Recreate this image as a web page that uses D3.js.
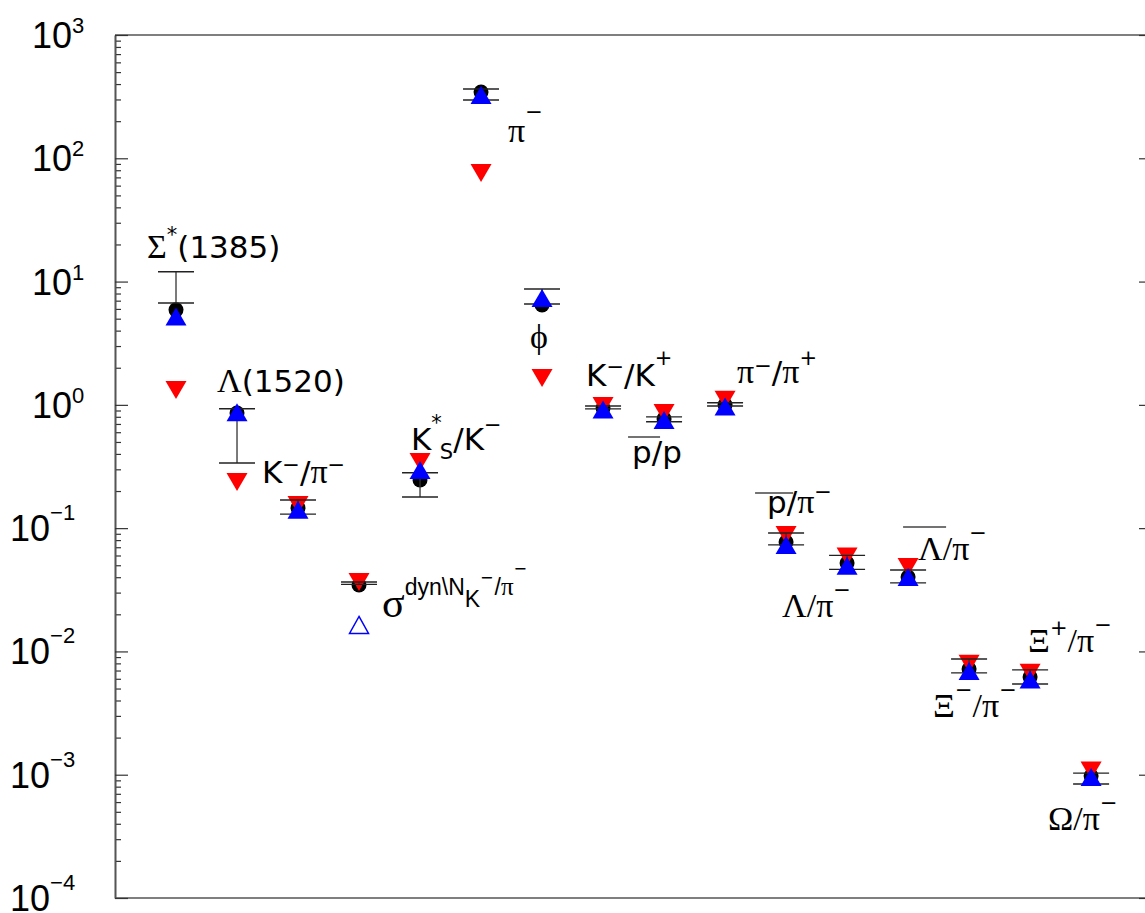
<!DOCTYPE html>
<html>
<head>
<meta charset="utf-8">
<script src="https://cdn.jsdelivr.net/npm/d3@7"></script>
<style>
  body { margin: 0; background: #fff; }
  svg { display: block; }
</style>
</head>
<body>
<svg id="chart"></svg>
<script>
// particle ratios: data (black), model A (red, down), model B (blue, up)
var categories = ["Σ*(1385)", "Λ(1520)", "K−/π−", "σdyn", "K*S/K−", "π−", "ϕ", "K−/K+",
                  "p̄/p", "π−/π+", "p̄/π−", "Λ/π−", "Λ̄/π−", "Ξ−/π−", "Ξ+/π−", "Ω/π−"];
var dataVals = [5.9, 0.86, 0.146, 0.0346, 0.246, 345, 6.46, 0.944, 0.769, 1.0, 0.0773, 0.0522, 0.0402, 0.00721, 0.00621, 0.000977];
var errHi    = [12, 0.93, 0.169, 0.0366, 0.281, 365, 8.71, 0.98, 0.799, 1.04, 0.0914, 0.0601, 0.0458, 0.00869, 0.00708, 0.00103];
var errLo    = [6.7, 0.338, 0.130, 0.0350, 0.179, 297, 6.58, 0.927, 0.73, 0.98, 0.0731, 0.0463, 0.0360, 0.00670, 0.00545, 0.00084];
var redVals  = [1.32, 0.237, 0.154, 0.0366, 0.344, 76, 1.65, 0.98, 0.859, 1.1, 0.0878, 0.0590, 0.0484, 0.00793, 0.00670, 0.00108];
var blueVals = [5.2, 0.87, 0.141, 0.0164, 0.296, 326, 7.36, 0.917, 0.755, 0.97, 0.0731, 0.0495, 0.0402, 0.00695, 0.00593, 0.00096];
var blueOpen = [false, false, false, true, false, false, false, false, false, false, false, false, false, false, false, false];
var decades = [-4, -3, -2, -1, 0, 1, 2, 3];

// label pieces: [text, kind, baseline shift override, dx]
var labelParts = [
  [["Σ","g"],["*","u",-16],["(1385)","r"]],
  [["Λ","g"],["(1520)","r"]],
  [["K","r"],["−","u",-11],["/","r"],["π","g"],["−","u",-11]],
  [["σ","gb"],["dyn\\N","s",-22],["K","s",-10],["−","m",-34],["/","s",-22,1],["π","gs",-22],["−","m",-43]],
  [["K","r"],["*","u",-20],["S","d",9,-2],["/K","r"],["−","u",-18]],
  [["π","g"],["−","u",-23]],
  [["ϕ","g"]],
  [["K","r"],["−","u",-12],["/K","r"],["+","u",-21]],
  [["p/p","r"]],
  [["π","g"],["−","u",-10],["/","r"],["π","g"],["+","u",-18]],
  [["p/","r"],["π","g"],["−","u",-14]],
  [["Λ/π","g"],["−","u",-20]],
  [["Λ/π","g"],["−","u",-20]],
  [["Ξ","g"],["−","u",-20],["/π","g"],["−","u",-20]],
  [["Ξ","g"],["+","u",-17],["/π","g"],["−","u",-20]],
  [["Ω/π","g"],["−","u",-20]]
];
// label offset from the data point (px)
var labelDx = [-29, -20, -36, 23, -9, 27, -12, -17, -32, 12, -19, -65, 10, -36, -2, -43];
var labelDy = [-52, -21, -25, 32, -30, 50, 43, -22, 44, -22, -29, 54, -17, 48, -25, 54];
// overlines for antiparticles: index -> [x0, x1, y] relative to label
var overlines = {8: [-4, 28, -26], 10: [-12, 26, -20], 12: [-15, 28, -33]};

var width = 1145, height = 913;
var mLeft = 115, mRight = 1146, mTop = 35, mBottom = 898;

var sans = "'DejaVu Sans', 'Liberation Sans', sans-serif";
var arial = "'Liberation Sans', Arial, sans-serif";
var serif = "'Liberation Serif', 'DejaVu Serif', serif";
var kinds = {
  r:  {f: sans, s: 31, b: 0},
  g:  {f: serif, s: 34, b: 0},
  gb: {f: serif, s: 42, b: 0},
  u:  {f: sans, s: 21, b: -19},
  d:  {f: sans, s: 21, b: 9},
  s:  {f: arial, s: 23, b: -22},
  gs: {f: serif, s: 25, b: -22},
  m:  {f: sans, s: 16, b: -34}
};

var svg = d3.select("#chart").attr("width", width).attr("height", height);
svg.append("rect").attr("width", width).attr("height", height).attr("fill", "#fff");

var xScale = d3.scaleLinear().domain([0, 16.9]).range([mLeft, mRight]);
var yScale = d3.scaleLog().domain([1e-4, 1e3]).range([mBottom, mTop]);

var majors = decades.map(function(d) { return Math.pow(10, d); });
var minors = [];
decades.forEach(function(d) {
  if (d < 3) for (var k = 2; k <= 9; k++) minors.push(k * Math.pow(10, d));
});

//frame: top and bottom lines
svg.append("line").attr("x1", mLeft).attr("x2", mRight).attr("y1", mTop).attr("y2", mTop)
   .attr("stroke", "#555").attr("stroke-width", 1.6);
svg.append("line").attr("x1", mLeft).attr("x2", mRight).attr("y1", mBottom).attr("y2", mBottom)
   .attr("stroke", "#555").attr("stroke-width", 1.6);

//left axis, ticks inward
svg.append("g").attr("transform", "translate(" + mLeft + ",0)")
   .call(d3.axisRight(yScale).tickValues(minors).tickSize(6).tickSizeOuter(0).tickFormat(""));
svg.append("g").attr("transform", "translate(" + mLeft + ",0)")
   .call(d3.axisRight(yScale).tickValues(majors).tickSize(13).tickSizeOuter(0).tickFormat(""));
//right axis
var gRight = svg.append("g").attr("transform", "translate(" + width + ",0)")
   .call(d3.axisLeft(yScale).tickValues(majors).tickSize(6).tickSizeOuter(0).tickFormat(""));
svg.selectAll(".domain").attr("stroke", "#555").attr("stroke-width", 1.6);
svg.selectAll(".tick line").attr("stroke", "#333").attr("stroke-width", 1.2);
gRight.select(".domain").remove();

//tick labels 10^n
decades.forEach(function(d) {
  var y = yScale(Math.pow(10, d));
  var t = svg.append("text")
     .attr("x", d < 0 ? 10 : 32)
     .attr("y", y + 13)
     .attr("font-family", arial)
     .attr("font-size", 36)
     .attr("fill", "#000");
  t.append("tspan").text("10");
  t.append("tspan").attr("font-size", 22).attr("dy", d < 0 ? -21 : -15)
   .text(d < 0 ? "\u2212" + (-d) : String(d));
});

var tri = function(up, w, h) {
  return up ? "M0," + (-h / 2) + "L" + (w / 2) + "," + (h / 2) + "L" + (-w / 2) + "," + (h / 2) + "Z"
            : "M0," + (h / 2) + "L" + (w / 2) + "," + (-h / 2) + "L" + (-w / 2) + "," + (-h / 2) + "Z";
};

var idx = d3.range(categories.length);

//data points
svg.append("g").selectAll("circle").data(idx).enter().append("circle")
   .attr("cx", function(i) { return xScale(i + 1); })
   .attr("cy", function(i) { return yScale(dataVals[i]); })
   .attr("r", 7.5)
   .attr("fill", "#000");

//model A
svg.append("g").selectAll("path").data(idx).enter().append("path")
   .attr("transform", function(i) { return "translate(" + xScale(i + 1) + "," + yScale(redVals[i]) + ")"; })
   .attr("d", tri(false, 21, 18))
   .attr("fill", "#ff0000");

//error bars
var eb = svg.append("g").selectAll("g").data(idx).enter().append("g")
   .attr("transform", function(i) { return "translate(" + xScale(i + 1) + ",0)"; });
eb.append("line")
   .attr("x1", 0).attr("x2", 0)
   .attr("y1", function(i) { return yScale(errHi[i]); })
   .attr("y2", function(i) { return yScale(errLo[i]); })
   .attr("stroke", "#333").attr("stroke-width", 1.3);
eb.append("line")
   .attr("x1", -18).attr("x2", 18)
   .attr("y1", function(i) { return yScale(errHi[i]); })
   .attr("y2", function(i) { return yScale(errHi[i]); })
   .attr("stroke", "#222").attr("stroke-width", 1.4);
eb.append("line")
   .attr("x1", -18).attr("x2", 18)
   .attr("y1", function(i) { return yScale(errLo[i]); })
   .attr("y2", function(i) { return yScale(errLo[i]); })
   .attr("stroke", "#222").attr("stroke-width", 1.4);

//model B
svg.append("g").selectAll("path").data(idx).enter().append("path")
   .attr("transform", function(i) { return "translate(" + xScale(i + 1) + "," + yScale(blueVals[i]) + ")"; })
   .attr("d", function(i) { return blueOpen[i] ? tri(true, 19, 17) : tri(true, 21, 18); })
   .attr("fill", function(i) { return blueOpen[i] ? "none" : "#0000ff"; })
   .attr("stroke", function(i) { return blueOpen[i] ? "#0000ff" : "none"; })
   .attr("stroke-width", 1.5);

//labels
idx.forEach(function(i) {
  var px = xScale(i + 1) + labelDx[i];
  var py = yScale(dataVals[i]) + labelDy[i];
  var g = svg.append("g").attr("transform", "translate(" + px + "," + py + ")");
  var t = g.append("text").attr("fill", "#000");
  var cur = 0;
  labelParts[i].forEach(function(p) {
    var k = kinds[p[1]];
    var b = p[2] !== undefined ? p[2] : k.b;
    var ts = t.append("tspan")
       .attr("font-family", k.f)
       .attr("font-size", k.s)
       .attr("dy", b - cur)
       .text(p[0]);
    if (p[3]) ts.attr("dx", p[3]);
    cur = b;
  });
  if (overlines[i]) {
    var o = overlines[i];
    g.append("line").attr("x1", o[0]).attr("x2", o[1]).attr("y1", o[2]).attr("y2", o[2])
     .attr("stroke", "#444").attr("stroke-width", 1.5);
  }
});
</script>
</body>
</html>
